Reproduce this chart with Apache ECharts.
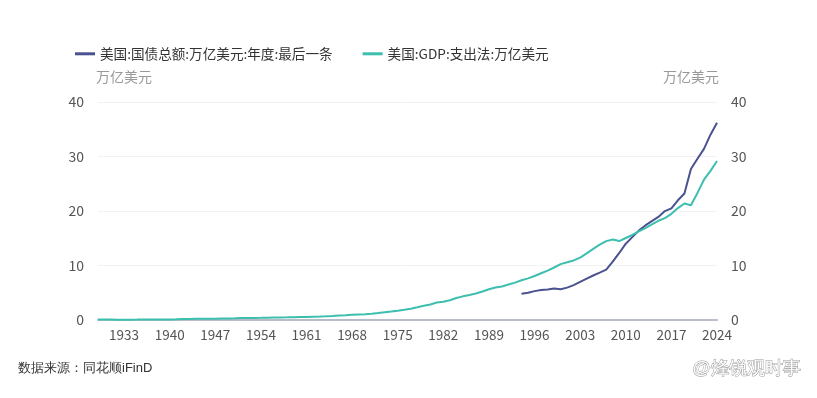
<!DOCTYPE html>
<html>
<head>
<meta charset="utf-8">
<style>
  html, body { margin: 0; padding: 0; background: #fff; }
  #container { width: 817px; height: 398px; }
</style>
<script src="https://cdn.jsdelivr.net/npm/echarts@6/dist/echarts.min.js"></script>
</head>
<body>
<div id="container"></div>
<script>
// years 1929 - 2024
var years = [];
for (var y = 1929; y <= 2024; y++) years.push(String(y));

// 美国:GDP:支出法:万亿美元 (1929-2024)
var gdp = [
    0.105, 0.092, 0.077, 0.060, 0.057, 0.067, 0.074, 0.085, 0.093, 0.087,
    0.094, 0.103, 0.129, 0.166, 0.203, 0.225, 0.229, 0.228, 0.250, 0.275,
    0.275, 0.300, 0.348, 0.368, 0.389, 0.391, 0.426, 0.450, 0.474, 0.482,
    0.522, 0.543, 0.563, 0.605, 0.639, 0.686, 0.744, 0.815, 0.862, 0.943,
    1.019, 1.073, 1.165, 1.280, 1.425, 1.545, 1.685, 1.873, 2.082, 2.352,
    2.627, 2.857, 3.207, 3.343, 3.634, 4.037, 4.339, 4.580, 4.855, 5.236,
    5.642, 5.963, 6.158, 6.520, 6.859, 7.287, 7.640, 8.073, 8.577, 9.063,
    9.631, 10.251, 10.582, 10.929, 11.457, 12.217, 13.039, 13.816, 14.474, 14.770,
    14.478, 15.049, 15.600, 16.254, 16.843, 17.551, 18.206, 18.695, 19.477, 20.533,
    21.381, 21.060, 23.315, 25.744, 27.361, 29.18
];

// 美国:国债总额:万亿美元:年度:最后一条 (1994-2024)
var debtFrom = 1994;
var debtVals = [
    4.80, 4.99, 5.30, 5.50, 5.60, 5.78, 5.66, 5.94, 6.40, 7.00,
    7.60, 8.17, 8.68, 9.23, 10.70, 12.30, 14.00, 15.20, 16.40, 17.35,
    18.14, 18.92, 19.98, 20.49, 21.97, 23.20, 27.70, 29.60, 31.40, 34.00,
    36.20
];

var debt = years.map(function (yr) {
    var i = Number(yr) - debtFrom;
    return i >= 0 ? debtVals[i] : null;
});

var dom = document.getElementById('container');
var myChart = echarts.init(dom, null, { renderer: 'canvas' });

var option = {
    animation: false,
    textStyle: { fontFamily: 'Noto Sans CJK SC' },
    legend: {
        left: 70,
        top: 42,
        itemWidth: 20,
        itemHeight: 3,
        itemGap: 30,
        icon: 'rect',
        textStyle: { color: '#333', fontSize: 13.6 },
        data: ['美国:国债总额:万亿美元:年度:最后一条', '美国:GDP:支出法:万亿美元']
    },
    grid: { left: 98, right: 100, top: 102, bottom: 78 },
    xAxis: {
        type: 'category',
        data: years,
        boundaryGap: false,
        axisLine: { lineStyle: { color: '#b8bcc8', width: 2 } },
        axisTick: { show: false },
        axisLabel: {
            color: '#555',
            fontSize: 13.5,
            margin: 8,
            interval: function (idx) { return (idx - 4) % 7 === 0; }
        }
    },
    yAxis: [
        {
            type: 'value',
            name: '万亿美元',
            nameLocation: 'end',
            nameGap: 18,
            nameTextStyle: { color: '#999', fontSize: 14, align: 'left', padding: [0, 0, 0, -2] },
            min: 0, max: 40, interval: 10,
            axisLine: { show: false },
            axisTick: { show: false },
            axisLabel: { color: '#555', fontSize: 14, margin: 14 },
            splitLine: { lineStyle: { color: '#f2f2f2' } }
        },
        {
            type: 'value',
            name: '万亿美元',
            nameLocation: 'end',
            nameGap: 18,
            nameTextStyle: { color: '#999', fontSize: 14, align: 'right', padding: [0, -2, 0, 0] },
            min: 0, max: 40, interval: 10,
            position: 'right',
            axisLine: { show: false },
            axisTick: { show: false },
            axisLabel: { color: '#555', fontSize: 14, margin: 14 },
            splitLine: { show: false }
        }
    ],
    series: [
        {
            name: '美国:国债总额:万亿美元:年度:最后一条',
            type: 'line',
            data: debt,
            showSymbol: false,
            connectNulls: false,
            itemStyle: { color: '#4a5290' },
            lineStyle: { width: 2, color: '#4a5290' }
        },
        {
            name: '美国:GDP:支出法:万亿美元',
            type: 'line',
            yAxisIndex: 1,
            data: gdp,
            showSymbol: false,
            itemStyle: { color: '#3cbfae' },
            lineStyle: { width: 2, color: '#3cbfae' }
        }
    ],
    graphic: [
        {
            type: 'text',
            left: 18,
            top: 362,
            style: { text: '数据来源：同花顺iFinD', fill: '#333', fontSize: 13 }
        },
        {
            type: 'text',
            right: 16,
            top: 360,
            style: {
                text: '@烽锐观时事',
                fill: '#ffffff',
                stroke: '#9a9a9a',
                lineWidth: 1,
                fontSize: 18
            }
        }
    ]
};

if (option && typeof option === 'object') {
    myChart.setOption(option);
}

window.addEventListener('resize', myChart.resize);
</script>
</body>
</html>
